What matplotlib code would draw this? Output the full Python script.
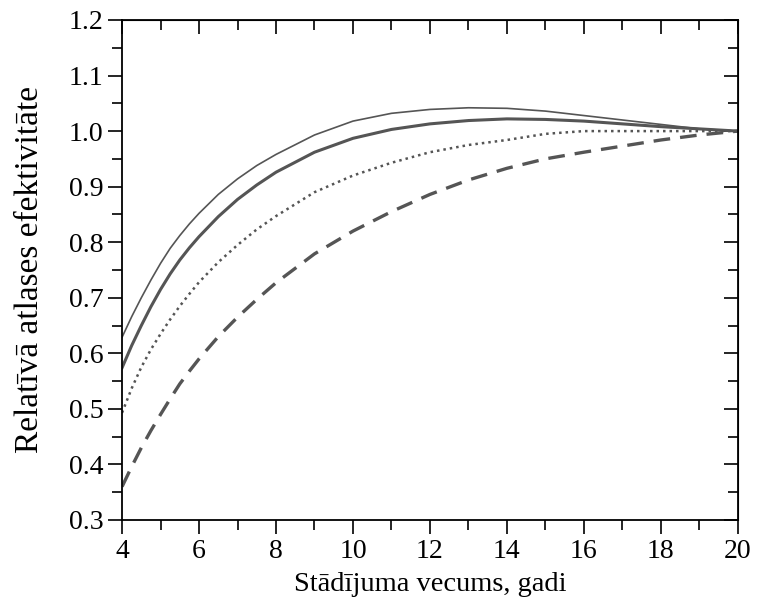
import matplotlib.pyplot as plt
from matplotlib.ticker import MultipleLocator, NullFormatter

plt.rcParams['font.family'] = ['Liberation Serif', 'DejaVu Serif']

age = [4, 4.25, 4.5, 4.75, 5, 5.25, 5.5, 5.75, 6, 6.5, 7, 7.5, 8,
       9, 10, 11, 12, 13, 14, 15, 16, 17, 18, 19, 20]

thin = [0.629, 0.666, 0.700, 0.732, 0.762, 0.789, 0.812, 0.833, 0.852, 0.886, 0.914, 0.938, 0.958,
        0.993, 1.018, 1.032, 1.039, 1.042, 1.041, 1.036, 1.028, 1.020, 1.012, 1.004, 1.0]
thick = [0.574, 0.614, 0.650, 0.684, 0.715, 0.743, 0.768, 0.790, 0.810, 0.846, 0.877, 0.903, 0.926,
         0.962, 0.987, 1.003, 1.013, 1.019, 1.022, 1.021, 1.018, 1.013, 1.008, 1.004, 1.0]
dotted = [0.493, 0.537, 0.575, 0.607, 0.635, 0.661, 0.685, 0.707, 0.728, 0.764, 0.795, 0.823, 0.847,
          0.890, 0.920, 0.943, 0.962, 0.975, 0.984, 0.995, 1.0, 1.0, 1.0, 1.0, 1.0]
dashed = [0.360, 0.396, 0.430, 0.461, 0.490, 0.518, 0.545, 0.568, 0.590, 0.630, 0.665, 0.697, 0.727,
          0.779, 0.820, 0.855, 0.886, 0.912, 0.933, 0.950, 0.962, 0.973, 0.984, 0.993, 1.0]

fig = plt.figure(figsize=(7.63, 6.06), dpi=100)
ax = fig.add_axes([0.16, 0.142, 0.807, 0.825])

c = '#555555'
ax.plot(age, thin, color=c, linewidth=1.2)
ax.plot(age, thick, color=c, linewidth=2.2)
ax.plot(age, dotted, color=c, linewidth=1.8, linestyle=(0, (1, 1.6)))
ax.plot(age, dashed, color=c, linewidth=2.4, linestyle=(0, (5, 3)))

ax.set_xlim(4, 20)
ax.set_ylim(0.3, 1.2)
ax.xaxis.set_major_locator(MultipleLocator(2))
ax.xaxis.set_minor_locator(MultipleLocator(1))
ax.yaxis.set_major_locator(MultipleLocator(0.1))
ax.yaxis.set_minor_locator(MultipleLocator(0.05))
ax.yaxis.set_major_formatter(plt.FuncFormatter(lambda v, p: f'{v:.1f}'))
ax.tick_params(which='both', direction='out', width=1.2, labelsize=20, color='black')
ax.tick_params(which='major', length=10)
ax.tick_params(which='minor', length=7)
for s in ax.spines.values():
    s.set_linewidth(1.3)

# inward ticks on top and right
top = ax.secondary_xaxis('top')
top.xaxis.set_major_locator(MultipleLocator(2))
top.xaxis.set_minor_locator(MultipleLocator(1))
top.xaxis.set_major_formatter(NullFormatter())
top.tick_params(which='both', direction='in', width=1.2)
top.tick_params(which='major', length=10)
top.tick_params(which='minor', length=7)
right = ax.secondary_yaxis('right')
right.yaxis.set_major_locator(MultipleLocator(0.1))
right.yaxis.set_minor_locator(MultipleLocator(0.05))
right.yaxis.set_major_formatter(NullFormatter())
right.tick_params(which='both', direction='in', width=1.2)
right.tick_params(which='major', length=10)
right.tick_params(which='minor', length=7)

ax.set_xlabel('Stādījuma vecums, gadi', fontsize=20.5, labelpad=6)
ax.set_ylabel('Relatīvā atlases efektivitāte', fontsize=24)
ax.yaxis.set_label_coords(-0.125, 0.5)

fig.savefig('out.png', dpi=100)
